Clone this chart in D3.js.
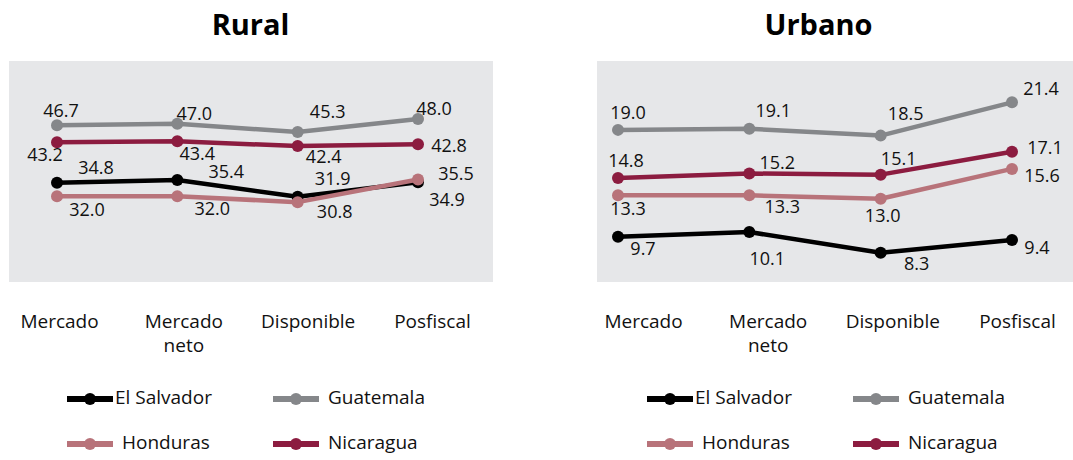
<!DOCTYPE html>
<html>
<head>
<meta charset="utf-8">
<script src="https://cdn.jsdelivr.net/npm/d3@7"></script>
<style>
  html, body { margin: 0; padding: 0; background: #ffffff; }
  svg { display: block; font-family: "Open Sans", "Noto Sans", sans-serif; }
</style>
</head>
<body>
<svg id="chart" width="1073" height="460"></svg>
<script>
// Income concept stages (x categories)
const categories = ["Mercado", "Mercado neto", "Disponible", "Posfiscal"];
const countries = ["El Salvador", "Guatemala", "Honduras", "Nicaragua"];

// Rural values
const ruralElSalvador = [34.8, 35.4, 31.9, 34.9];
const ruralGuatemala  = [46.7, 47.0, 45.3, 48.0];
const ruralHonduras   = [32.0, 32.0, 30.8, 35.5];
const ruralNicaragua  = [43.2, 43.4, 42.4, 42.8];

// Urban values
const urbanElSalvador = [9.7, 10.1, 8.3, 9.4];
const urbanGuatemala  = [19.0, 19.1, 18.5, 21.4];
const urbanHonduras   = [13.3, 13.3, 13.0, 15.6];
const urbanNicaragua  = [14.8, 15.2, 15.1, 17.1];

// Series styling
const colors = {
  "El Salvador": "#000000",
  "Guatemala": "#85878a",
  "Honduras": "#b8737a",
  "Nicaragua": "#8c1c40"
};

// Value-label placement (dx, dy from each point), per panel and series
const ruralLabelOffsets = {
  "El Salvador": [[39, -9], [49, -2], [35, -12], [29, 24]],
  "Guatemala":   [[4, -8], [17, -4], [30, -14], [16, -4]],
  "Honduras":    [[30, 20], [35, 19], [37, 16], [38, 1]],
  "Nicaragua":   [[-12, 19], [20, 19], [26, 17], [31, 8]]
};
const urbanLabelOffsets = {
  "El Salvador": [[25, 18], [18, 33], [36, 17], [25, 14]],
  "Guatemala":   [[10, -11], [24, -12], [25, -16], [29, -7]],
  "Honduras":    [[10, 20], [33, 18], [2, 23], [30, 13]],
  "Nicaragua":   [[8, -11], [28, -5], [18, -10], [33, 2]]
};

const panels = [
  {
    title: "Rural", titleX: 250.5,
    bg: [9, 493], pts: [57, 418], cats: [59, 432], legendX: 0,
    yMax: 60, yRange: [351, 61],
    values: {
      "El Salvador": ruralElSalvador, "Guatemala": ruralGuatemala,
      "Honduras": ruralHonduras, "Nicaragua": ruralNicaragua
    },
    offsets: ruralLabelOffsets
  },
  {
    title: "Urbano", titleX: 818.5,
    bg: [597, 1073], pts: [618, 1012], cats: [643, 1017], legendX: 580,
    yMax: 25, yRange: [348, 61],
    values: {
      "El Salvador": urbanElSalvador, "Guatemala": urbanGuatemala,
      "Honduras": urbanHonduras, "Nicaragua": urbanNicaragua
    },
    offsets: urbanLabelOffsets
  }
];

const svg = d3.select("#chart");
const plotTop = 61, plotBottom = 282;

panels.forEach(p => {
  const g = svg.append("g");

  // Title
  g.append("text")
    .attr("x", p.titleX).attr("y", 35)
    .attr("text-anchor", "middle")
    .attr("font-size", 29).attr("font-weight", 700)
    .attr("fill", "#000")
    .text(p.title);

  // Plot background
  g.append("rect")
    .attr("x", p.bg[0]).attr("y", plotTop)
    .attr("width", p.bg[1] - p.bg[0]).attr("height", plotBottom - plotTop)
    .attr("fill", "#e6e7e9");

  const x = d3.scalePoint().domain(categories).range(p.pts);
  const y = d3.scaleLinear().domain([0, p.yMax]).range(p.yRange);
  const line = d3.line().x((d, i) => x(categories[i])).y(d => y(d));

  countries.forEach(c => {
    const vals = p.values[c];
    const sg = g.append("g");
    sg.append("path")
      .datum(vals)
      .attr("d", line)
      .attr("fill", "none")
      .attr("stroke", colors[c])
      .attr("stroke-width", 4.5)
      .attr("stroke-linejoin", "round");
    sg.selectAll("circle")
      .data(vals)
      .join("circle")
      .attr("cx", (d, i) => x(categories[i]))
      .attr("cy", d => y(d))
      .attr("r", 6)
      .attr("fill", colors[c]);
  });

  // Value labels
  countries.forEach(c => {
    const vals = p.values[c];
    g.append("g").selectAll("text")
      .data(vals)
      .join("text")
      .attr("x", (d, i) => x(categories[i]) + p.offsets[c][i][0])
      .attr("y", (d, i) => y(d) + p.offsets[c][i][1])
      .attr("text-anchor", "middle")
      .attr("font-size", 18)
      .attr("fill", "#111")
      .text(d => d3.format(".1f")(d));
  });

  // Category axis
  const xc = d3.scalePoint().domain(categories).range(p.cats);
  const axis = g.append("g")
    .attr("transform", "translate(0,314)")
    .call(d3.axisBottom(xc).tickSize(0).tickPadding(0));
  axis.select(".domain").remove();
  axis.selectAll(".tick text")
    .attr("font-family", "\"Open Sans\", \"Noto Sans\", sans-serif")
    .attr("font-size", 19)
    .attr("fill", "#111")
    .attr("dy", null)
    .attr("y", 0)
    .each(function (d) {
      const words = d.split(" ");
      const t = d3.select(this).text(null);
      words.forEach((w, i) => {
        t.append("tspan")
          .attr("x", 0)
          .attr("y", 14 + i * 24)
          .text(w);
      });
    });

  // Legend
  const legendPos = [[67, 399], [273, 399], [67, 444], [273, 444]];
  countries.forEach((c, i) => {
    const lx = legendPos[i][0] + p.legendX, ly = legendPos[i][1];
    const lg = g.append("g");
    lg.append("line")
      .attr("x1", lx).attr("x2", lx + 46)
      .attr("y1", ly).attr("y2", ly)
      .attr("stroke", colors[c]).attr("stroke-width", 6);
    lg.append("circle")
      .attr("cx", lx + 23).attr("cy", ly).attr("r", 6)
      .attr("fill", colors[c]);
    lg.append("text")
      .attr("x", lx + 48 + (i === 0 ? 0 : 7)).attr("y", ly + 5)
      .attr("font-size", 19).attr("fill", "#111")
      .text(c);
  });
});
</script>
</body>
</html>
